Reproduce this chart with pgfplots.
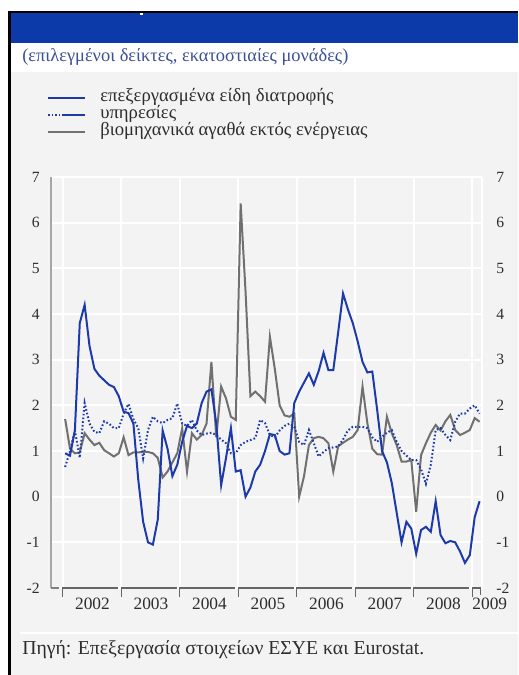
\documentclass[border=0pt]{standalone}
\usepackage{pgfplots}
\pgfplotsset{compat=1.18}
\usepackage{pgfplotstable}
\usepackage{fontspec}
\setmainfont{Liberation Serif}
\definecolor{cblue}{RGB}{28,58,170}
\definecolor{cgray}{RGB}{112,112,112}
\definecolor{barblue}{RGB}{12,58,168}
\definecolor{bg}{RGB}{243,243,243}
\definecolor{subc}{RGB}{60,80,150}
\definecolor{txt}{RGB}{45,45,45}

\pgfplotstableread{
m v
0 0.95
1 0.9
2 1.45
3 3.8
4 4.2
5 3.3
6 2.8
7 2.65
8 2.55
9 2.45
10 2.4
11 2.2
12 1.86
13 1.83
14 1.6
15 0.37
16 -0.55
17 -1.0
18 -1.05
19 -0.5
20 1.45
21 1.05
22 0.45
23 0.7
24 1.2
25 1.55
26 1.5
27 1.6
28 2.05
29 2.3
30 2.35
31 1.6
32 0.25
33 0.85
34 1.5
35 0.55
36 0.58
37 0.0
38 0.2
39 0.55
40 0.7
41 1.0
42 1.37
43 1.35
44 1.0
45 0.92
46 0.95
47 2.05
48 2.3
49 2.5
50 2.7
51 2.45
52 2.75
53 3.15
54 2.77
55 2.77
56 3.6
57 4.45
58 4.1
59 3.8
60 3.4
61 2.95
62 2.72
63 2.74
64 1.9
65 1.0
66 0.75
67 0.3
68 -0.35
69 -1.0
70 -0.55
71 -0.7
72 -1.25
73 -0.73
74 -0.66
75 -0.77
76 -0.1
77 -0.84
78 -1.02
79 -0.97
80 -1.0
81 -1.2
82 -1.45
83 -1.28
84 -0.45
85 -0.1
}\food

\pgfplotstableread{
m v
0 0.65
1 1.0
2 1.45
3 0.85
4 2.05
5 1.6
6 1.42
7 1.39
8 1.65
9 1.6
10 1.5
11 1.5
12 1.82
13 2.03
14 1.7
15 1.5
16 0.84
17 1.46
18 1.75
19 1.65
20 1.61
21 1.68
22 1.72
23 2.04
24 1.6
25 1.55
26 1.68
27 1.45
28 1.35
29 1.38
30 1.4
31 1.35
32 1.25
33 1.17
34 0.95
35 0.95
36 1.13
37 1.2
38 1.24
39 1.28
40 1.68
41 1.61
42 1.35
43 1.3
44 1.45
45 1.55
46 1.6
47 1.53
48 1.2
49 1.13
50 1.46
51 1.17
52 0.88
53 0.98
54 1.06
55 1.08
56 1.1
57 1.25
58 1.45
59 1.53
60 1.53
61 1.53
62 1.5
63 1.3
64 1.2
65 1.31
66 1.4
67 1.46
68 1.2
69 1.0
70 0.9
71 0.8
72 0.8
73 0.6
74 0.28
75 0.7
76 1.46
77 1.5
78 1.35
79 1.24
80 1.64
81 1.82
82 1.82
83 1.93
84 2.0
85 1.82
}\serv

\pgfplotstableread{
m v
0 1.7
1 1.05
2 0.95
3 0.97
4 1.39
5 1.25
6 1.13
7 1.18
8 1.02
9 0.95
10 0.88
11 0.95
12 1.3
13 0.91
14 0.97
15 0.97
16 0.98
17 0.98
18 0.95
19 0.85
20 0.42
21 0.55
22 0.75
23 0.95
24 1.5
25 0.55
26 1.39
27 1.25
28 1.35
29 1.6
30 2.95
31 1.3
32 2.41
33 2.15
34 1.75
35 1.68
36 6.42
37 4.5
38 2.2
39 2.3
40 2.2
41 2.08
42 3.5
43 2.8
44 2.0
45 1.78
46 1.75
47 1.82
48 0.0
49 0.45
50 1.13
51 1.28
52 1.31
53 1.28
54 1.17
55 0.55
56 1.1
57 1.18
58 1.25
59 1.31
60 1.46
61 2.41
62 1.6
63 1.05
64 0.93
65 0.92
66 1.75
67 1.39
68 1.13
69 0.77
70 0.77
71 0.8
72 -0.33
73 0.91
74 1.17
75 1.4
76 1.57
77 1.45
78 1.65
79 1.79
80 1.46
81 1.35
82 1.4
83 1.46
84 1.72
85 1.64
}\ind

\begin{document}
\begin{tikzpicture}[x=0.75pt,y=0.75pt]
\path[use as bounding box] (0,0) rectangle (518,675);
\fill[white] (0,0) rectangle (518,675);
\fill[bg] (10,0) rectangle (518,603);
\fill[white] (10,603) rectangle (518,632);
\fill[barblue] (10,632) rectangle (518,662);
\fill[white] (140,660) rectangle (143,663);
\draw[black,line width=1.5pt] (8,663) -- (518,663);
\draw[black,line width=2.2pt] (9.5,664) -- (9.5,0);
\draw[white,line width=1.2pt] (20,42) -- (518,42);
\node[anchor=west,text=subc,font=\fontsize{13.8pt}{15pt}\selectfont,inner sep=0pt] at (22,618) {(επιλεγμένοι δείκτες, εκατοστιαίες μονάδες)};
% legend
\draw[cblue,line width=1.6pt] (48,577) -- (85,577);
\draw[cblue,line width=1.6pt,dash pattern=on 1.2pt off 1.6pt] (48,560) -- (60,560);
\draw[cblue,line width=1.6pt] (62,560) -- (85,560);
\draw[cgray,line width=1.6pt] (48,543) -- (85,543);
\begin{scope}[every node/.style={anchor=west,text=txt,font=\fontsize{14pt}{15pt}\selectfont,inner sep=0pt}]
\node at (100,578) {επεξεργασμένα είδη διατροφής};
\node at (100,561) {υπηρεσίες};
\node at (100,544) {βιομηχανικά αγαθά εκτός ενέργειας};
\end{scope}
\node[anchor=west,text=txt,font=\fontsize{14.8pt}{16pt}\selectfont,inner sep=0pt] at (22,25) {Πηγή: Επεξεργασία στοιχείων ΕΣΥΕ και Eurostat.};
\begin{axis}[
  at={(38.25pt,65.25pt)}, anchor=south west,
  scale only axis, width=323.25pt, height=308.25pt,
  xmin=-2.9, xmax=85.5, ymin=-2, ymax=7,
  clip=false,
  axis line style={draw=none},
  major tick style={draw=none},
  xtick={-0.5,11.5,23.5,35.5,47.5,59.5,71.5,83.5,85.5},
  xticklabels={},
  ytick={-2,-1,0,1,2,3,4,5,6,7},
  yticklabels={-2,-1,0,1,2,3,4,5,6,7},
  yticklabel style={font=\fontsize{11.7pt}{13pt}\selectfont, text=txt, xshift=-5pt},
  grid=major,
  major grid style={white,line width=1.3pt},
]
\draw[gray!70,line width=0.9pt] (axis cs:-2.9,-2) -- (axis cs:-2.9,7);
\addplot[cgray,line width=1.5pt] table[x=m,y=v] {\ind};
\addplot[cblue,line width=1.5pt,dash pattern=on 1.2pt off 1.6pt] table[x=m,y=v] {\serv};
\addplot[cblue,line width=1.5pt] table[x=m,y=v] {\food};
% year brackets
\draw[gray,line width=0.9pt] (axis cs:-2.9,-2) -- (axis cs:-1.2,-2);
\pgfplotsinvokeforeach{0,1,2,3,4,5,6}{
  \draw[gray!80!black,line width=0.9pt] (axis cs:{12*#1-0.5},-2.2) -- (axis cs:{12*#1-0.5},-2) -- (axis cs:{12*#1+10.9},-2);
}
\draw[gray!80!black,line width=0.9pt] (axis cs:83.5,-2.2) -- (axis cs:83.5,-2) -- (axis cs:85.2,-2) -- (axis cs:85.2,-2.15);
\pgfplotsinvokeforeach{0,1,2,3,4,5,6}{
  \node[anchor=north,text=txt,font=\fontsize{13pt}{15pt}\selectfont,inner sep=0pt] at (axis cs:{12*#1+5.6},-2.22) {\pgfmathparse{int(2002+#1)}\pgfmathresult};
}
\node[anchor=north,text=txt,font=\fontsize{13pt}{15pt}\selectfont,inner sep=0pt] at (axis cs:87.1,-2.22) {2009};
\pgfplotsinvokeforeach{-2,-1,0,1,2,3,4,5,6,7}{
  \node[anchor=west,text=txt,font=\fontsize{11.7pt}{13pt}\selectfont,inner sep=0pt] at (axis cs:88.4,#1) {#1};
}
\end{axis}
\end{tikzpicture}
\end{document}
